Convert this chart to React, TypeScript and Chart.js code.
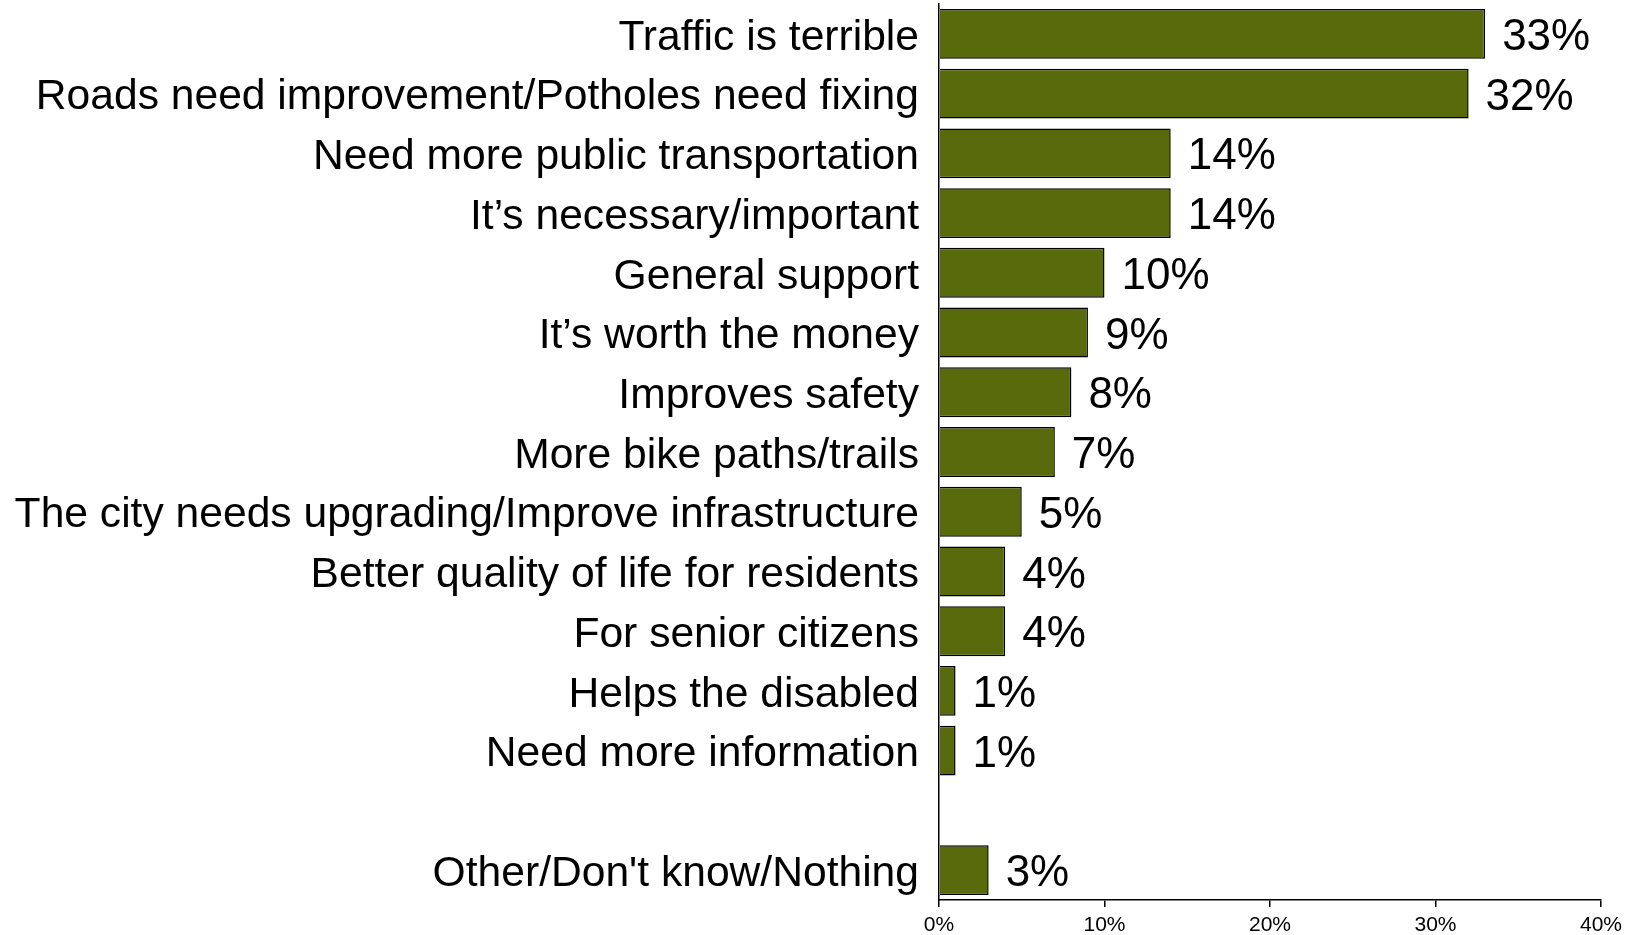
import React, { useEffect, useRef } from "react";
import { Chart, registerables } from "chart.js";

Chart.register(...registerables);

const categories: string[] = [
  "Traffic is terrible",
  "Roads need improvement/Potholes need fixing",
  "Need more public transportation",
  "It\u2019s necessary/important",
  "General support",
  "It\u2019s worth the money",
  "Improves safety",
  "More bike paths/trails",
  "The city needs upgrading/Improve infrastructure",
  "Better quality of life for residents",
  "For senior citizens",
  "Helps the disabled",
  "Need more information",
  "",
  "Other/Don't know/Nothing",
];

const values: (number | null)[] = [33, 32, 14, 14, 10, 9, 8, 7, 5, 4, 4, 1, 1, null, 3];

const xTicks: number[] = [0, 10, 20, 30, 40];

const FONT = "'Liberation Sans', Arial, sans-serif";

const valueLabels = {
  id: "valueLabels",
  afterDatasetsDraw(chart: any) {
    const ctx = chart.ctx;
    const meta = chart.getDatasetMeta(0);
    ctx.save();
    ctx.fillStyle = "#000";
    ctx.font = `44px ${FONT}`;
    ctx.textAlign = "left";
    ctx.textBaseline = "middle";
    meta.data.forEach((bar: any, i: number) => {
      const v = values[i];
      if (v == null) return;
      ctx.fillText(`${v}%`, bar.x + 17, bar.y + 4);
    });
    ctx.restore();
  },
};

export default function App() {
  const ref = useRef<HTMLCanvasElement | null>(null);
  useEffect(() => {
    document.body.style.margin = "0";
    const chart = new Chart(ref.current as HTMLCanvasElement, {
      type: "bar",
      data: {
        labels: categories,
        datasets: [
          {
            data: values,
            backgroundColor: "#586a0b",
            borderColor: "#000",
            borderWidth: 1.5,
            barPercentage: 0.835,
            categoryPercentage: 1,
          },
        ],
      },
      options: {
        indexAxis: "y",
        animation: false,
        responsive: false,
        maintainAspectRatio: false,
        layout: { padding: { top: 4, right: 33, left: 0, bottom: 0 } },
        plugins: { legend: { display: false }, tooltip: { enabled: false } },
        scales: {
          x: {
            min: 0,
            max: 40,
            afterBuildTicks: (s: any) => {
              s.ticks = xTicks.map((v) => ({ value: v }));
            },
            afterFit: (s: any) => {
              s.height = 35;
              s.paddingLeft = 0;
              s.paddingRight = 0;
            },
            ticks: {
              color: "#000",
              font: { family: FONT, size: 21 },
              padding: 6,
              callback: (v: any) => `${v}%`,
              maxRotation: 0,
            },
            grid: {
              display: true,
              drawOnChartArea: false,
              drawTicks: true,
              tickLength: 7,
              color: "#000",
              lineWidth: 1.5,
            },
            border: { display: true, color: "#000", width: 1.5 },
          },
          y: {
            afterFit: (s: any) => {
              s.width = 939;
              s.paddingTop = 0;
              s.paddingBottom = 0;
            },
            ticks: {
              color: "#000",
              font: { family: FONT, size: 42.6 },
              padding: 20,
              labelOffset: 4,
              autoSkip: false,
            },
            grid: { display: false, drawTicks: false },
            border: { display: true, color: "#000", width: 1.5 },
          },
        },
      },
      plugins: [valueLabels],
    } as any);
    return () => chart.destroy();
  }, []);
  return (
    <div style={{ position: "absolute", left: 0, top: 0, width: 1634, height: 935 }}>
      <canvas ref={ref} width={1634} height={935} style={{ width: 1634, height: 935 }} />
    </div>
  );
}
